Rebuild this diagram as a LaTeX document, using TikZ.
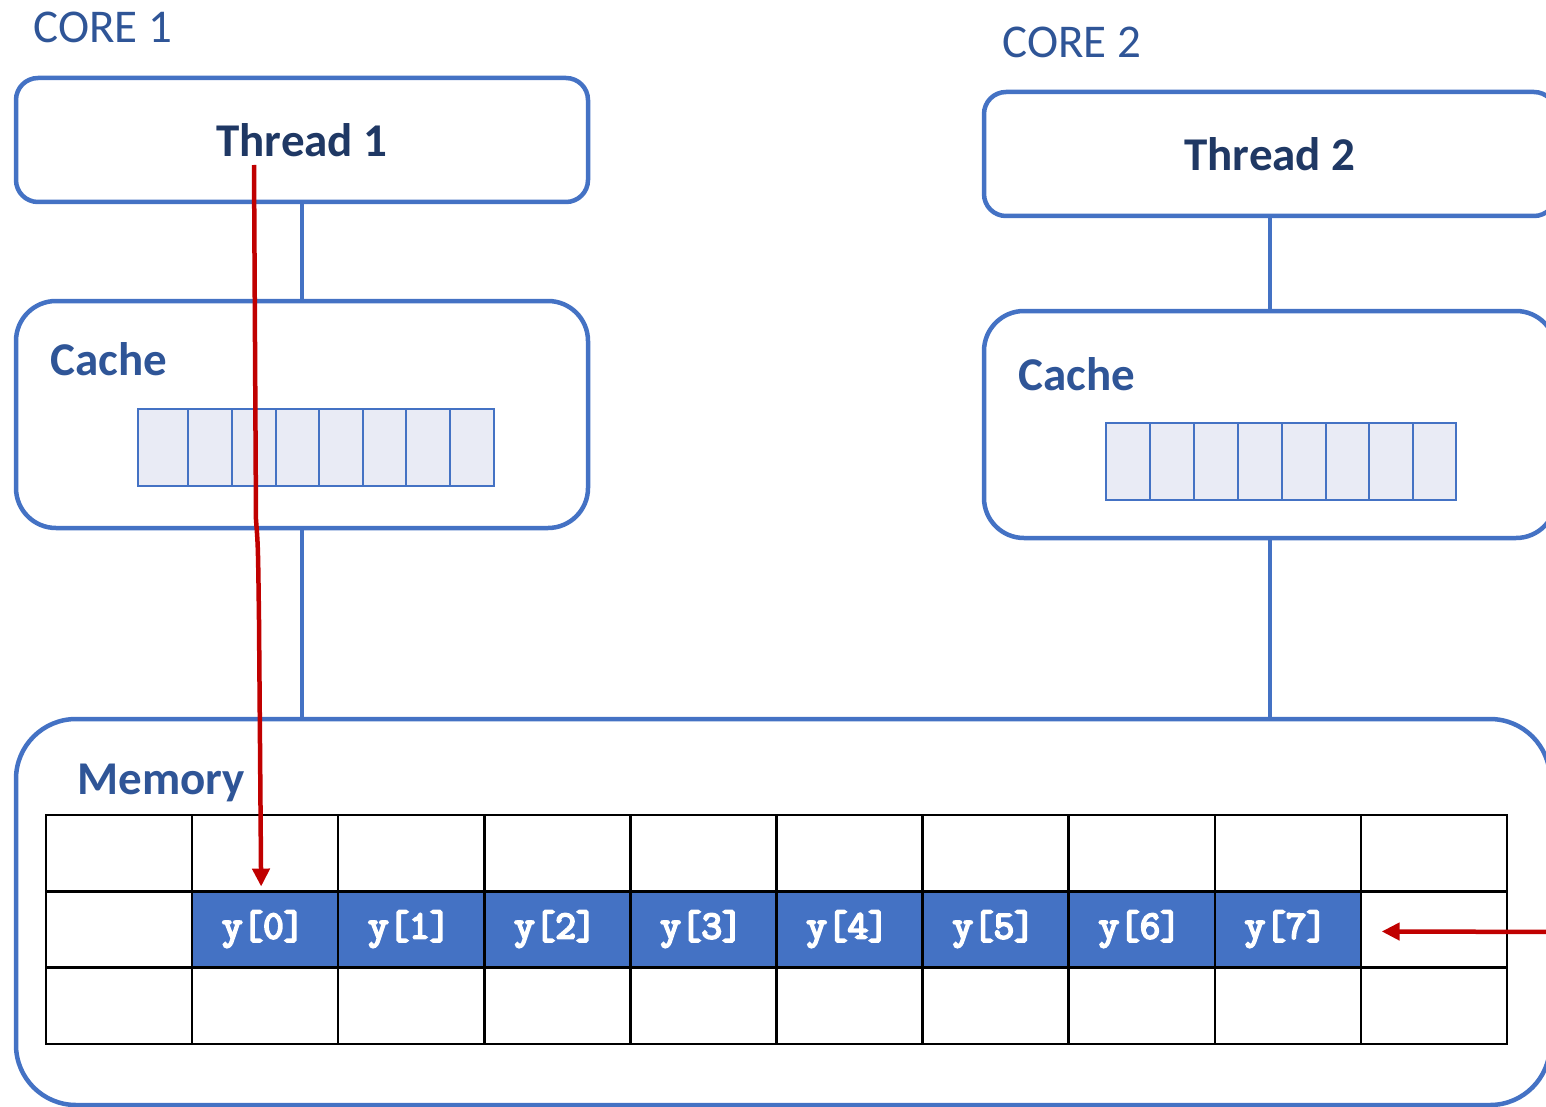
\documentclass[tikz,border=0pt]{standalone}
\usepackage{fontspec}
\setmainfont{Carlito}
\newfontfamily\monob{Latin Modern Mono}[FakeBold=5]
\usetikzlibrary{arrows.meta,calc}
\definecolor{boxblue}{HTML}{4472C4}
\definecolor{labblue}{HTML}{2F5597}
\definecolor{navy}{HTML}{1F3864}
\definecolor{cellfill}{HTML}{E9EBF5}
\definecolor{arrred}{HTML}{C00000}
\begin{document}
\begin{tikzpicture}[x=1pt,y=-1pt,
  threadbox/.style={draw=boxblue,line width=4.5pt,rounded corners=22pt,minimum width=572pt,minimum height=124pt,inner sep=0pt,text=navy,font=\fontsize{47}{50}\selectfont\bfseries},
  cachebox/.style={draw=boxblue,line width=4.5pt,rounded corners=40pt,minimum width=572pt,minimum height=227pt,inner sep=0pt},
  membox/.style={draw=boxblue,line width=4.5pt,rounded corners=60pt,minimum width=1534pt,minimum height=386pt,inner sep=0pt},
  corelab/.style={anchor=base west,text=labblue,font=\fontsize{47}{50}\selectfont},
  boxlab/.style={anchor=base west,text=labblue,font=\fontsize{47}{50}\selectfont\bfseries},
  cachecell/.style={draw=boxblue,line width=2pt,fill=cellfill,inner sep=0pt,minimum height=77pt},
  memcell/.style={draw=black,line width=2.5pt,inner sep=0pt,minimum width=146.1pt,minimum height=76.3pt},
  ycell/.style={memcell,fill=boxblue},
  ytext/.style={text=white,inner sep=0pt,font=\fontsize{40}{42}\selectfont\monob},
  conn/.style={draw=boxblue,line width=4.5pt},
  redarrow/.style={draw=arrred,line width=4.5pt,-{Triangle[length=18pt,width=17pt]}}
]
\useasboundingbox (0,0) rectangle (1546,1107);
\clip (0,0) rectangle (1546,1107);

% labels
\node[corelab] (core1) at (30,43) {CORE 1};
\node[corelab] (core2) at (999,58) {CORE 2};

% core 1
\node[threadbox] (t1) at (302,140) {Thread 1};
\node[cachebox] (c1) at (302,414.5) {};
\node[boxlab] (c1lab) at (47,375) {Cache};
\foreach \a/\b [count=\i] in {138/188,188/232,232/276,276/319,319/363,363/406,406/450,450/494}{
  \node[cachecell,minimum width={(\b-\a)*1pt}] (ca-\i) at ({(\a+\b)/2},447.5) {};
}

% core 2
\node[threadbox] (t2) at (1270,154) {Thread 2};
\node[cachebox] (c2) at (1270,424.5) {};
\node[boxlab] (c2lab) at (1015,390) {Cache};
\foreach \a/\b [count=\i] in {1106/1150,1150/1194,1194/1238,1238/1282,1282/1326,1326/1369,1369/1413,1413/1456}{
  \node[cachecell,minimum width={(\b-\a)*1pt}] (cb-\i) at ({(\a+\b)/2},461) {};
}

% memory
\node[membox] (mem) at (783,912) {};
\node[boxlab] (memlab) at (74,794) {Memory};
\foreach \r in {0,1,2}{
  \foreach \c in {0,...,9}{
    \node[memcell] (m-\r-\c) at ({46+146.1*(\c+0.5)},{815+76.3*(\r+0.5)}) {};
  }
}
\foreach \c in {1,...,8}{
  \pgfmathtruncatemacro{\k}{\c-1}
  \node[ycell] (yc-\k) at (m-1-\c) {};
  \node[ytext,anchor=base] (y-\k) at ($(m-1-\c)+(-2,9)$) {y[\k]};
}

% connectors
\draw[conn] (t1.south) -- (c1.north);
\draw[conn] (c1.south) -- (c1.south |- mem.north);
\draw[conn] (t2.south) -- (c2.north);
\draw[conn] (c2.south) -- (c2.south |- mem.north);

% red arrows
\coordinate (r1s) at (254,165);
\coordinate (r2s) at (1560,932);
\draw[redarrow] (r1s) -- (256,520) .. controls (258,545) .. (259,620) -- ($(m-0-1.south)+(-4,-6)$);
\draw[redarrow] (r2s) -- ($(m-1-9.west)+(22,2)$);
\end{tikzpicture}
\end{document}
